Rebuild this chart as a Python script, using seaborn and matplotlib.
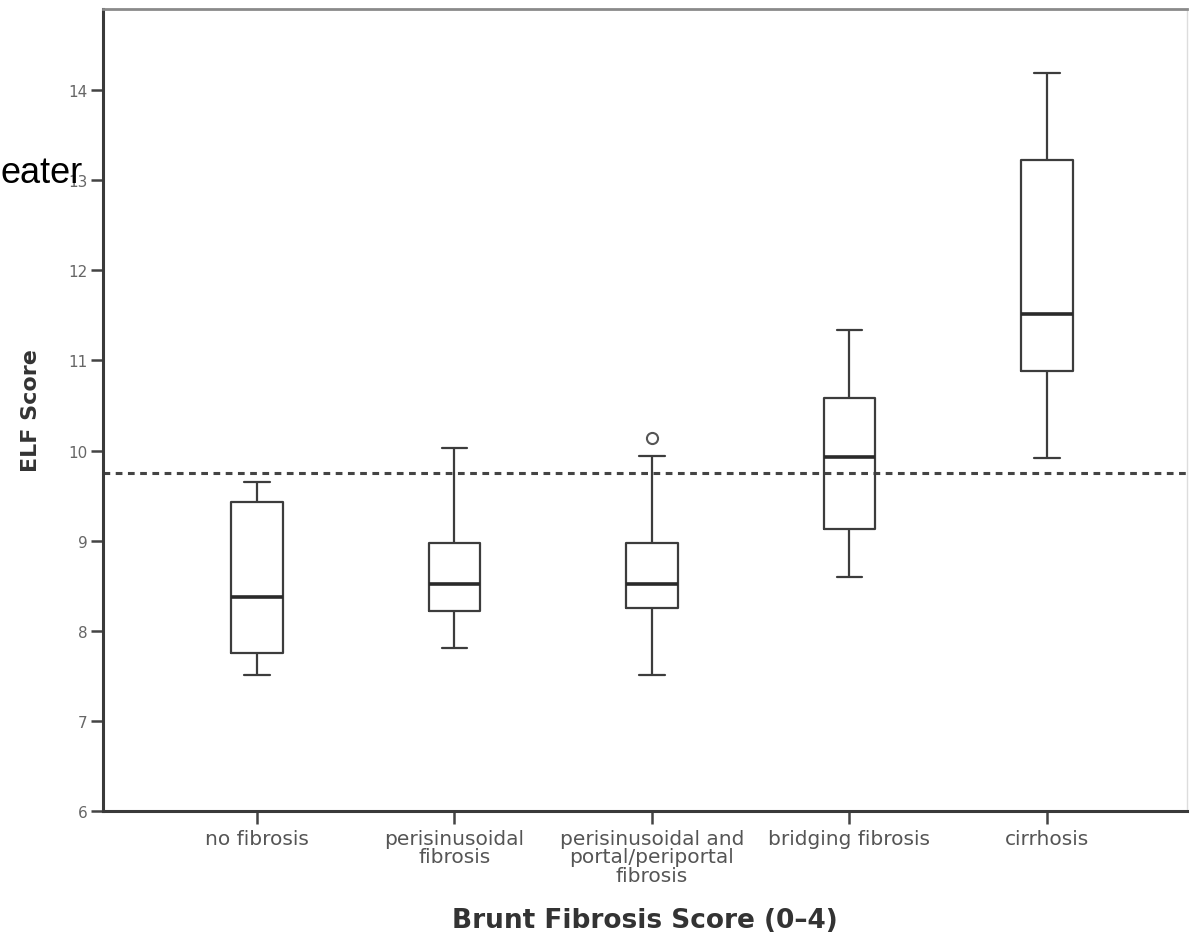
import numpy as np
import pandas as pd
import matplotlib
matplotlib.use("Agg")
import matplotlib.pyplot as plt
import seaborn as sns

# Brunt fibrosis stages and five-number summaries of the ELF score
stages = [
    "no fibrosis",
    "perisinusoidal\nfibrosis",
    "perisinusoidal and\nportal/periportal\nfibrosis",
    "bridging fibrosis",
    "cirrhosis",
]
whisker_low = [7.51, 7.81, 7.51, 8.60, 9.92]
q1 = [7.75, 8.22, 8.25, 9.13, 10.88]
median = [8.37, 8.52, 8.52, 9.93, 11.51]
q3 = [9.43, 8.97, 8.97, 10.58, 13.23]
whisker_high = [9.65, 10.03, 9.94, 11.34, 14.19]

outlier_stage = [stages[2]]
outlier_value = [10.14]

cutoff = 9.75
y_ticks = [6, 7, 8, 9, 10, 11, 12, 13, 14]

# long table: the five summary values per stage give exact quartiles
rows = []
for i, s in enumerate(stages):
    for v in (whisker_low[i], q1[i], median[i], q3[i], whisker_high[i]):
        rows.append({"stage": s, "elf": v})
df = pd.DataFrame(rows)
out_df = pd.DataFrame({"stage": outlier_stage, "elf": outlier_value})

sns.set_theme(style="white")
plt.rcParams["font.family"] = ["DejaVu Sans"]

fig = plt.figure(figsize=(11.96, 9.37), dpi=100)
ax = fig.add_axes([0.0861, 0.1334, 0.9064, 0.8559])

line_col = "#3c3c3c"
sns.boxplot(
    data=df, x="stage", y="elf", order=stages, ax=ax,
    width=0.26, whis=(0, 100), fill=False, color=line_col,
    linewidth=1.6, showfliers=False,
    medianprops=dict(linewidth=2.6, color="#2a2a2a"),
)
sns.stripplot(
    data=out_df, x="stage", y="elf", order=stages, ax=ax,
    jitter=False, marker="o", size=8, color="white",
    edgecolor="#555555", linewidth=1.5, zorder=5,
)

ax.axhline(cutoff, color="#444444", lw=2.2, ls=(0, (2.2, 1.8)), zorder=1)

ax.set_xlim(-0.78, 4.71)
ax.set_ylim(6, 14.9)
ax.set_yticks(y_ticks)
ax.set_yticklabels([str(t) for t in y_ticks])

ax.set_xlabel("Brunt Fibrosis Score (0\u20134)", fontsize=19, fontweight="bold",
              color="#333333", labelpad=16)
ax.set_ylabel("ELF Score", fontsize=16, fontweight="bold", color="#333333",
              labelpad=20)

ax.tick_params(axis="y", direction="out", length=9, width=1.8, color="#444444",
               labelsize=11, labelcolor="#666666", pad=2, left=True)
ax.tick_params(axis="x", direction="out", length=9, width=1.8, color="#444444",
               labelsize=14.5, labelcolor="#555555", pad=4, bottom=True)
for lbl in ax.get_xticklabels():
    lbl.set_linespacing(0.95)
    lbl.set_verticalalignment("top")

for side in ("left", "bottom"):
    ax.spines[side].set_color("#3a3a3a")
    ax.spines[side].set_linewidth(2.2)
ax.spines["top"].set_color("#8a8a8a")
ax.spines["top"].set_linewidth(2.0)
ax.spines["right"].set_color("#dddddd")
ax.spines["right"].set_linewidth(1.0)

fig.text(0.0, 1 - 183 / 937, "eater", fontsize=26, family="Liberation Sans",
         color="black", ha="left", va="baseline")

fig.savefig("out.png", dpi=100, facecolor="white")
